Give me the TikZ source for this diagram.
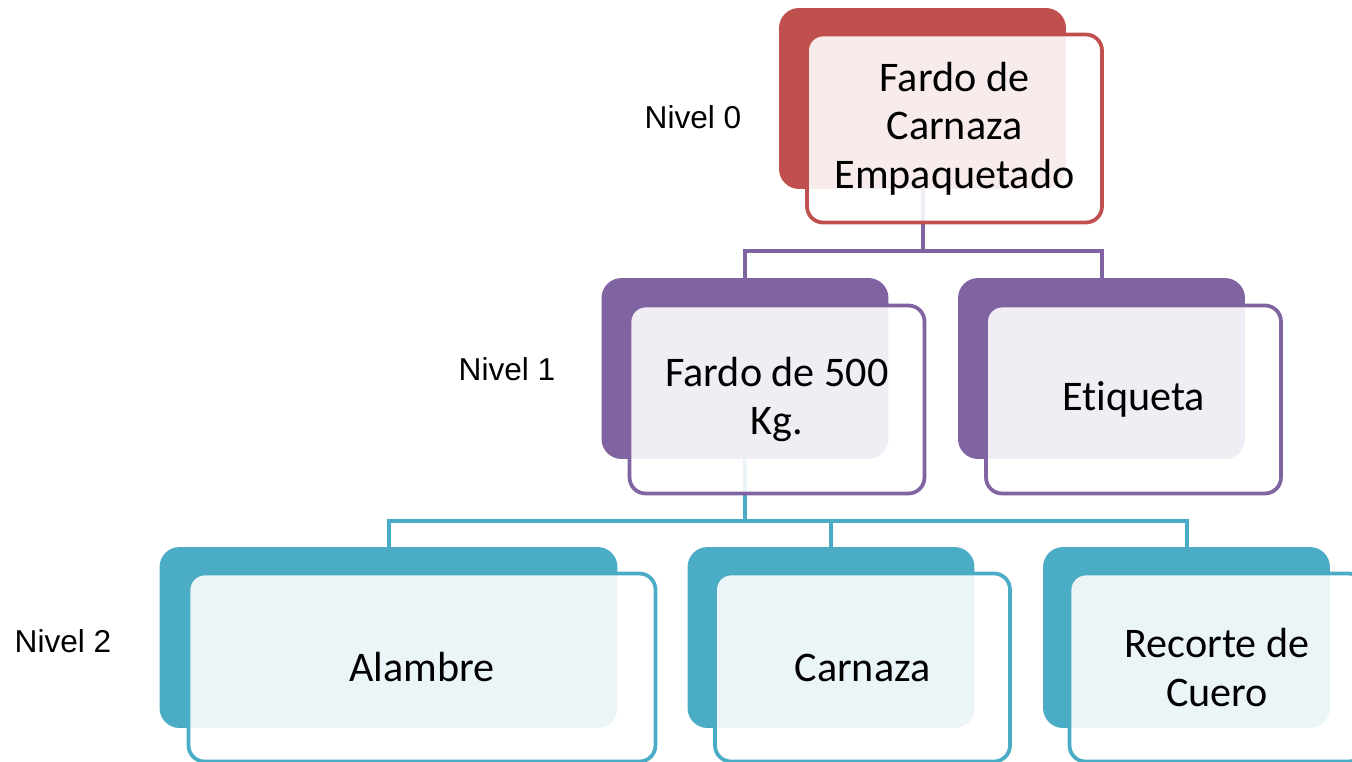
\documentclass[tikz,border=0pt]{standalone}
\usepackage{fontspec}
\setmainfont{Carlito}[Ligatures=NoCommon]
\newfontfamily\levelfont{Liberation Sans}
\usetikzlibrary{calc,backgrounds}
\definecolor{lvlred}{HTML}{C0504D}
\definecolor{lvlpurple}{HTML}{8064A2}
\definecolor{lvlteal}{HTML}{4BACC6}
\tikzset{
  backbox/.style={rectangle, rounded corners=0.4cm, inner sep=0, fill=#1, draw=none,
    minimum width=5.74cm, minimum height=3.62cm},
  frontbox/.style={rectangle, rounded corners=0.32cm, inner sep=0, draw=#1, line width=0.075cm,
    fill=white, fill opacity=0.89, text opacity=1, align=center,
    minimum width=5.9cm, minimum height=3.76cm,
    font=\fontsize{24}{27.5}\selectfont},
  link/.style={draw=#1, line width=0.08cm},
  levellabel/.style={font=\levelfont\fontsize{18}{20}\selectfont, inner sep=0}
}

\begin{document}
\begin{tikzpicture}[x=0.02cm, y=-0.02cm]
  %%%%% START %%%%%
  \useasboundingbox (0,0) rectangle (1352,761);

  % back boxes
  \node[backbox=lvlred] (b0) at (922.5,98.5) {};
  \node[backbox=lvlpurple] (b1) at (745,368.5) {};
  \node[backbox=lvlpurple] (b2) at (1101.5,368.5) {};
  \node[backbox=lvlteal, minimum width=9.16cm] (b3) at (388.5,637.5) {};
  \node[backbox=lvlteal] (b4) at (831,637.5) {};
  \node[backbox=lvlteal] (b5) at (1186.5,637.5) {};

  % front boxes
  \node[frontbox=lvlred] (f0) at ($(b0)+(32,30)$) {Fardo de\\Carnaza\\Empaquetado};
  \node[frontbox=lvlpurple] (f1) at ($(b1)+(32,31)$) {Fardo de 500\\Kg.};
  \node[frontbox=lvlpurple] (f2) at ($(b2)+(32,31)$) {Etiqueta};
  \node[frontbox=lvlteal, minimum width=9.34cm] (f3) at ($(b3)+(33.5,30)$) {Alambre};
  \node[frontbox=lvlteal] (f4) at ($(b4)+(31.5,30)$) {Carnaza};
  \node[frontbox=lvlteal] (f5) at ($(b5)+(30.5,30)$) {Recorte de\\Cuero};

  % level labels
  \node[levellabel] (lbl0) at (693,117) {Nivel 0};
  \node[levellabel] (lbl1) at (507,369) {Nivel 1};
  \node[levellabel] (lbl2) at (63,641) {Nivel 2};

  % connectors
  \coordinate (bus0) at ($(f0.south)!0.5!(b1.north)$);
  \coordinate (bus1) at ($(f1.south)!0.5!(b3.north)$);
  \begin{scope}[on background layer]
    \draw[link=lvlpurple] (b0.south) -- (b0.south |- bus0) -| (b1.north);
    \draw[link=lvlpurple] (b0.south |- bus0) -| (b2.north);
    \draw[link=lvlteal] (b1.south) -- (b1.south |- bus1) -| (b3.north);
    \draw[link=lvlteal] (b1.south |- bus1) -| (b5.north);
    \draw[link=lvlteal] (b4.north |- bus1) -- (b4.north);
  \end{scope}
  %%%%% END %%%%%
\end{tikzpicture}
\end{document}
